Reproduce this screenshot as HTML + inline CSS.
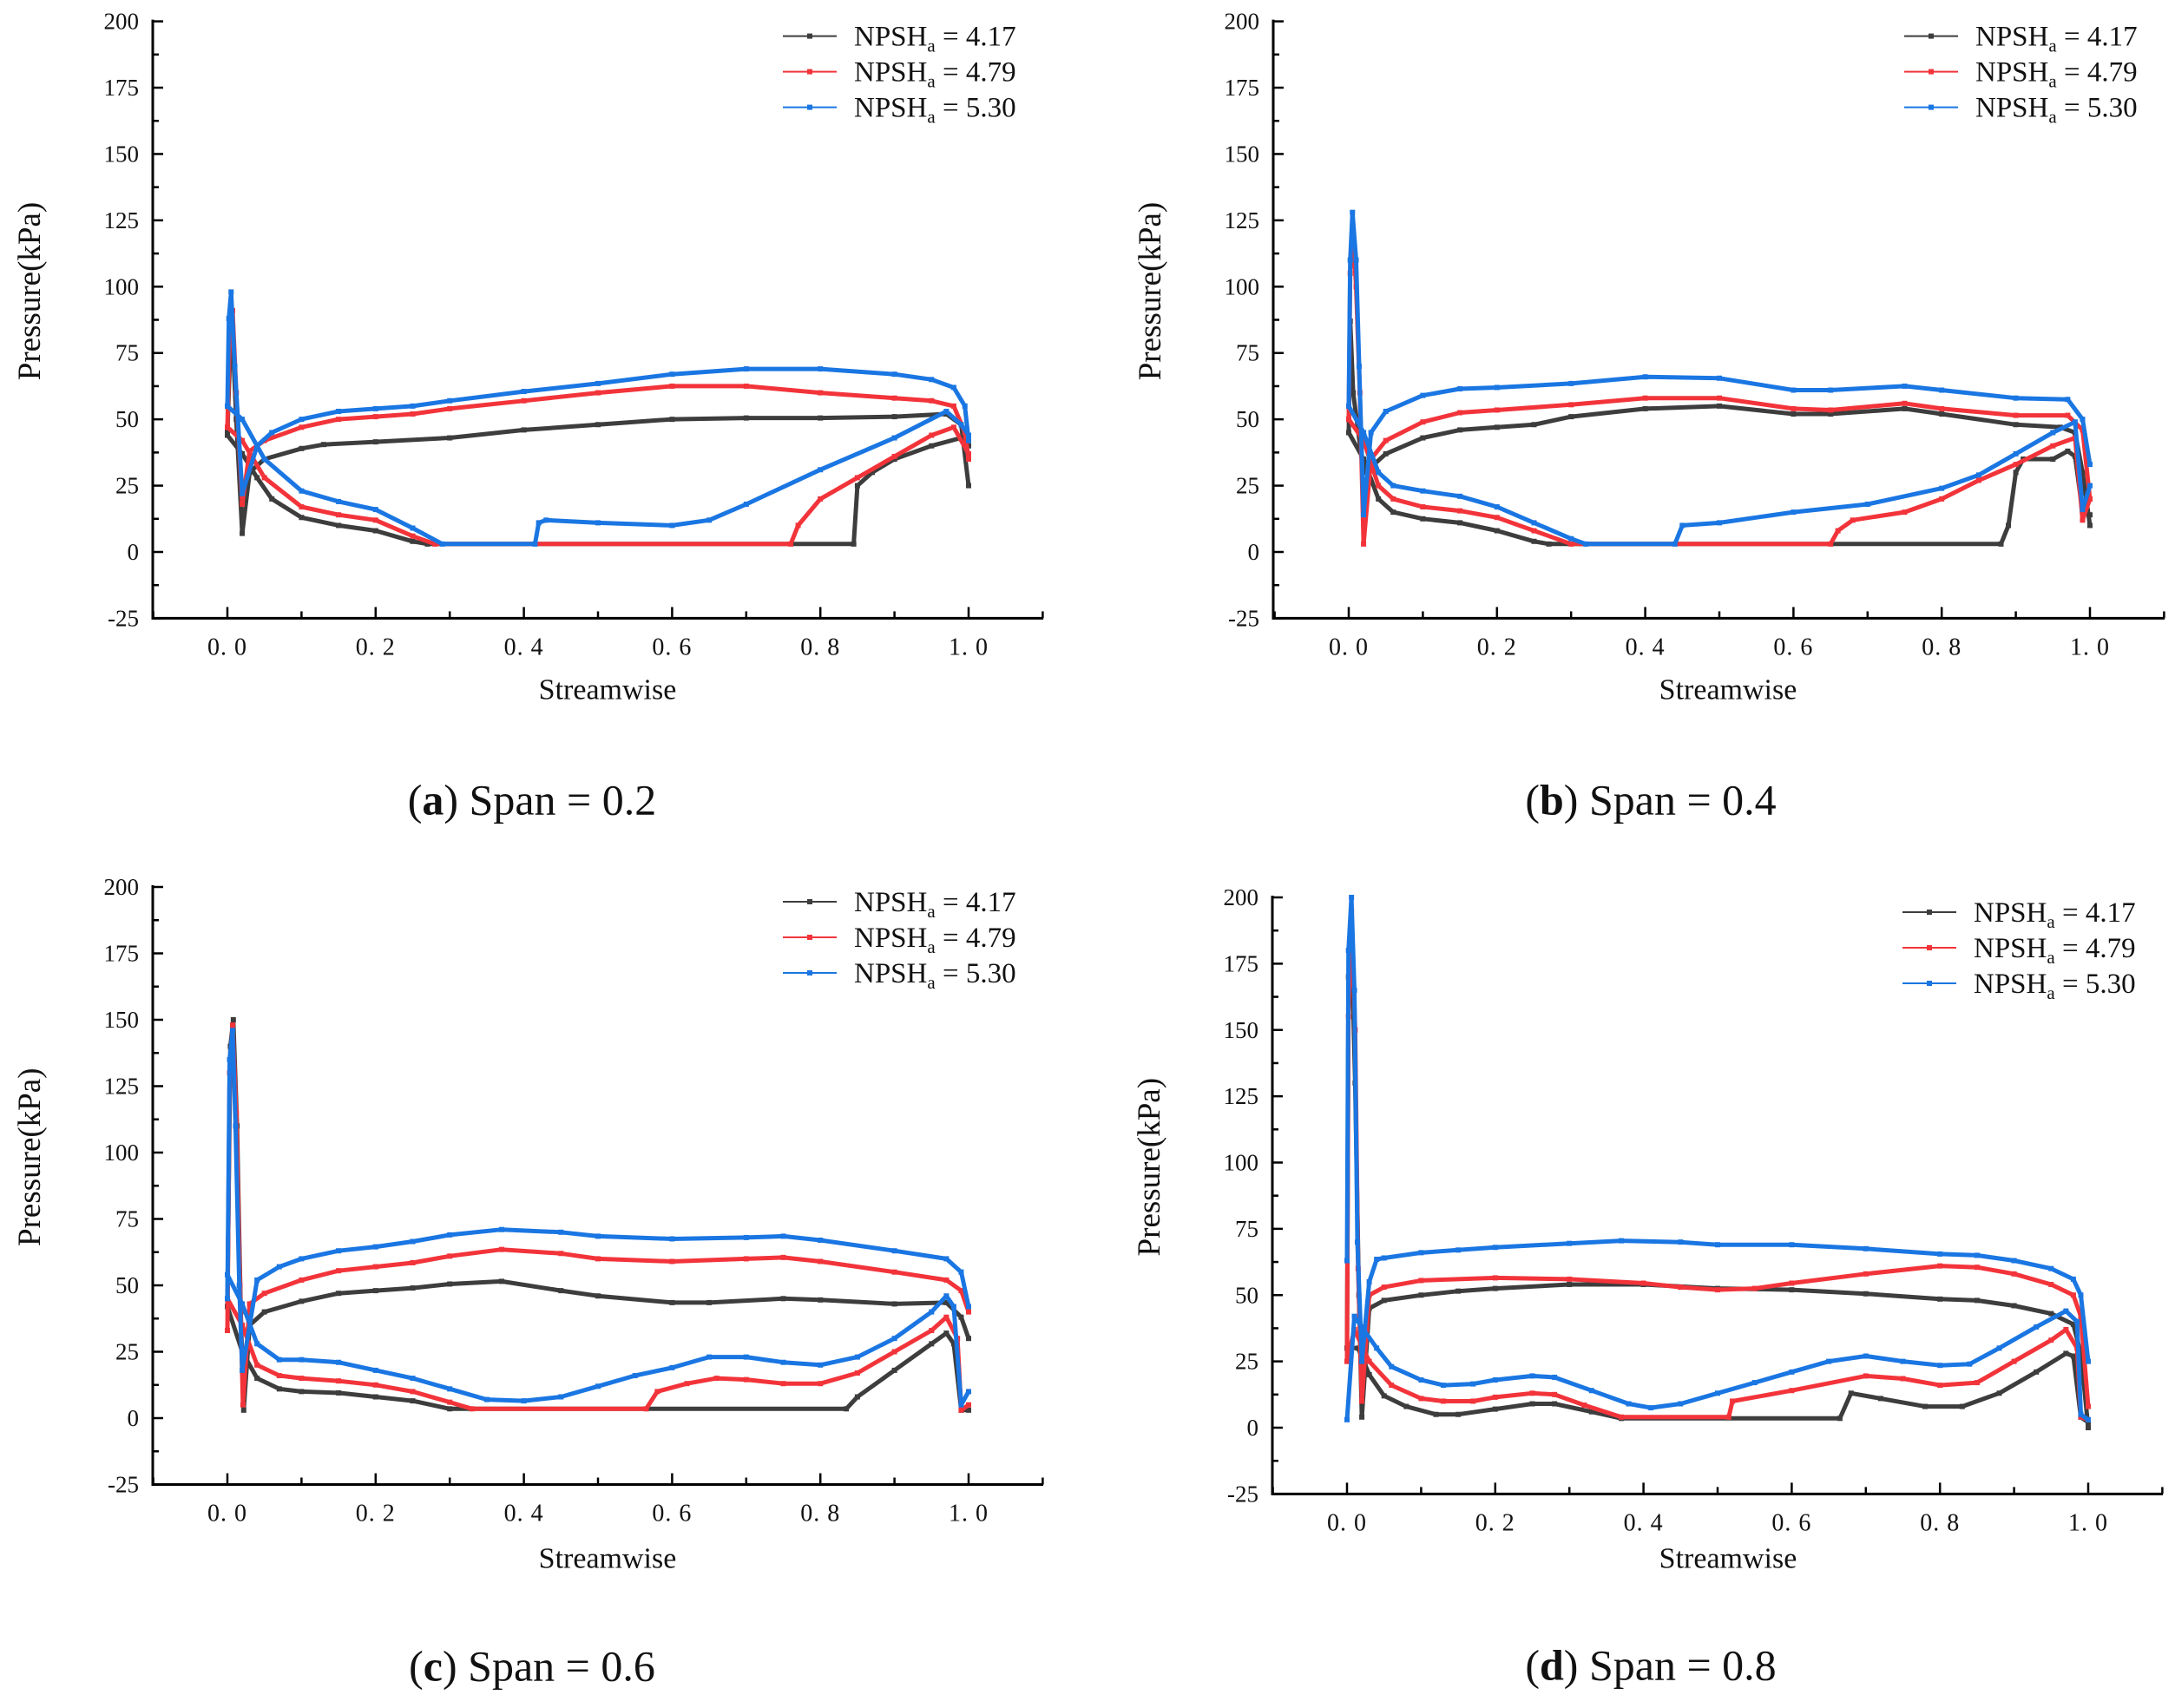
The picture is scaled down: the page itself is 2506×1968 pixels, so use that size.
<!DOCTYPE html>
<html><head><meta charset="utf-8"><title>Pressure distributions</title>
<style>html,body{margin:0;padding:0;background:#fff}svg{display:block}text{font-family:"Liberation Serif",serif;fill:#111}</style>
</head><body>
<svg id="fig" width="2506" height="1968" viewBox="0 0 2506 1968" xmlns="http://www.w3.org/2000/svg"></svg>
<script>
// ---------- data: [streamwise, pressure kPa] ----------
const seriesNames = ["4.17", "4.79", "5.30"];
const seriesColors = ["#3d3d3d", "#f2343a", "#1a76e2"];
const yTicks = [-25, 0, 25, 50, 75, 100, 125, 150, 175, 200];
const xTickLabels = ["0. 0", "0. 2", "0. 4", "0. 6", "0. 8", "1. 0"];
const xTickValues = [0, 0.2, 0.4, 0.6, 0.8, 1.0];
const captionLetters = ["a", "b", "c", "d"];
const captionSpans = ["0.2", "0.4", "0.6", "0.8"];

// Panel (a) span 0.2
const aBlackUp = [[0,45],[0.003,70],[0.006,88],[0.012,50],[0.02,7],[0.03,30],[0.05,35],[0.1,39],[0.13,40.5],[0.2,41.5],[0.3,43],[0.4,46],[0.5,48],[0.6,50],[0.7,50.5],[0.8,50.5],[0.9,51],[0.97,52],[0.99,48],[1.0,25]];
const aBlackLo = [[0,44],[0.02,37],[0.04,28],[0.06,20],[0.1,13],[0.15,10],[0.2,8],[0.25,4],[0.27,3],[0.845,3],[0.85,25],[0.87,30],[0.9,35],[0.95,40],[0.99,43],[1.0,40]];
const aRedUp = [[0,47],[0.003,80],[0.007,91],[0.012,60],[0.02,18],[0.03,38],[0.05,42],[0.1,47],[0.15,50],[0.2,51],[0.25,52],[0.3,54],[0.4,57],[0.5,60],[0.6,62.5],[0.7,62.5],[0.8,60],[0.9,58],[0.95,57],[0.98,55],[0.995,45],[1.0,35]];
const aRedLo = [[0,47],[0.02,42],[0.05,28],[0.1,17],[0.15,14],[0.2,12],[0.25,6],[0.28,3],[0.76,3],[0.77,10],[0.8,20],[0.85,28],[0.9,36],[0.95,44],[0.98,47],[1.0,37]];
const aBlueUp = [[0,55],[0.002,88],[0.005,98],[0.01,70],[0.02,22],[0.04,40],[0.06,45],[0.1,50],[0.15,53],[0.2,54],[0.25,55],[0.3,57],[0.4,60.5],[0.5,63.5],[0.6,67],[0.7,69],[0.8,69],[0.9,67],[0.95,65],[0.98,62],[0.995,55],[1.0,42]];
const aBlueLo = [[0,55],[0.02,50],[0.05,35],[0.1,23],[0.15,19],[0.2,16],[0.25,9],[0.29,3],[0.415,3],[0.42,11],[0.43,12],[0.5,11],[0.6,10],[0.65,12],[0.7,18],[0.8,31],[0.9,43],[0.97,53],[0.99,48],[1.0,44]];

// Panel (b) span 0.4
const bBlackUp = [[0,45],[0.002,87],[0.006,60],[0.02,30],[0.03,32],[0.05,37],[0.1,43],[0.15,46],[0.2,47],[0.25,48],[0.3,51],[0.4,54],[0.5,55],[0.6,52],[0.65,52],[0.75,54],[0.8,52],[0.9,48],[0.96,47],[0.98,45],[0.99,30],[1.0,10]];
const bBlackLo = [[0,45],[0.02,35],[0.04,20],[0.06,15],[0.1,12.5],[0.15,11],[0.2,8],[0.25,4],[0.27,3],[0.88,3],[0.89,10],[0.9,30],[0.91,35],[0.95,35],[0.97,38],[0.98,36],[0.99,15],[1.0,14]];
const bRedUp = [[0,50],[0.002,105],[0.005,122],[0.01,100],[0.015,60],[0.02,3],[0.03,35],[0.05,42],[0.1,49],[0.15,52.5],[0.2,53.5],[0.3,55.5],[0.4,58],[0.5,58],[0.6,54],[0.65,53.5],[0.75,56],[0.8,54],[0.9,51.5],[0.97,51.5],[0.99,46],[1.0,20]];
const bRedLo = [[0,50],[0.02,42],[0.04,25],[0.06,20],[0.1,17],[0.15,15.5],[0.2,13],[0.25,8],[0.3,3],[0.65,3],[0.66,8],[0.68,12],[0.75,15],[0.8,20],[0.85,27],[0.9,33],[0.95,40],[0.98,43],[0.99,12],[1.0,20]];
const bBlueUp = [[0,55],[0.002,110],[0.005,128],[0.01,110],[0.014,70],[0.02,14],[0.03,45],[0.05,53],[0.1,59],[0.15,61.5],[0.2,62],[0.3,63.5],[0.4,66],[0.5,65.5],[0.6,61],[0.65,61],[0.75,62.5],[0.8,61],[0.9,58],[0.97,57.5],[0.99,50],[1.0,33]];
const bBlueLo = [[0,55],[0.02,45],[0.04,30],[0.06,25],[0.1,23],[0.15,21],[0.2,17],[0.25,11],[0.3,5],[0.32,3],[0.44,3],[0.45,10],[0.5,11],[0.6,15],[0.7,18],[0.8,24],[0.85,29],[0.9,37],[0.95,45],[0.98,49],[0.99,16],[1.0,25]];

// Panel (c) span 0.6
const cBlackUp = [[0,42],[0.004,140],[0.008,150],[0.013,110],[0.018,40],[0.022,3],[0.03,35],[0.05,40],[0.1,44],[0.15,47],[0.2,48],[0.25,49],[0.3,50.5],[0.37,51.5],[0.45,48],[0.5,46],[0.6,43.5],[0.65,43.5],[0.75,45],[0.8,44.5],[0.9,43],[0.97,43.5],[0.99,38],[1.0,30]];
const cBlackLo = [[0,42],[0.02,25],[0.04,15],[0.07,11],[0.1,10],[0.15,9.5],[0.2,8],[0.25,6.5],[0.3,3.5],[0.835,3.5],[0.85,8],[0.9,18],[0.95,28],[0.97,32],[0.98,28],[0.99,3],[1.0,3]];
const cRedUp = [[0,33],[0.003,130],[0.007,148],[0.012,115],[0.017,50],[0.021,5],[0.03,43],[0.05,47],[0.1,52],[0.15,55.5],[0.2,57],[0.25,58.5],[0.3,61],[0.37,63.5],[0.45,62],[0.5,60],[0.6,59],[0.7,60],[0.75,60.5],[0.8,59],[0.9,55],[0.97,52],[0.99,48],[1.0,40]];
const cRedLo = [[0,45],[0.02,35],[0.04,20],[0.07,16],[0.1,15],[0.15,14],[0.2,12.5],[0.25,10],[0.3,6],[0.33,3.5],[0.565,3.5],[0.58,10],[0.62,13],[0.66,15],[0.7,14.5],[0.75,13],[0.8,13],[0.85,17],[0.9,25],[0.95,33],[0.97,38],[0.985,30],[0.99,3],[1.0,5]];
const cBlueUp = [[0,45],[0.003,135],[0.007,146],[0.011,110],[0.016,50],[0.02,18],[0.04,52],[0.07,57],[0.1,60],[0.15,63],[0.2,64.5],[0.25,66.5],[0.3,69],[0.37,71],[0.45,70],[0.5,68.5],[0.6,67.5],[0.7,68],[0.75,68.5],[0.8,67],[0.9,63],[0.97,60],[0.99,55],[1.0,42]];
const cBlueLo = [[0,54],[0.02,43],[0.04,28],[0.07,22],[0.1,22],[0.15,21],[0.2,18],[0.25,15],[0.3,11],[0.35,7],[0.4,6.5],[0.45,8],[0.5,12],[0.55,16],[0.6,19],[0.65,23],[0.7,23],[0.75,21],[0.8,20],[0.85,23],[0.9,30],[0.95,40],[0.97,46],[0.98,42],[0.99,5],[1.0,10]];

// Panel (d) span 0.8
const dBlackUp = [[0,30],[0.002,170],[0.006,185],[0.011,130],[0.016,50],[0.02,4],[0.03,45],[0.05,48],[0.1,50],[0.15,51.5],[0.2,52.5],[0.3,54],[0.4,54],[0.5,52.5],[0.6,52],[0.7,50.5],[0.8,48.5],[0.85,48],[0.9,46],[0.95,43],[0.98,39],[0.99,28],[1.0,0]];
const dBlackLo = [[0,30],[0.015,30],[0.03,20],[0.05,12],[0.08,8],[0.12,5],[0.15,5],[0.2,7],[0.25,9],[0.28,9],[0.33,6],[0.37,3.5],[0.665,3.5],[0.68,13],[0.72,11],[0.78,8],[0.83,8],[0.88,13],[0.93,21],[0.97,28],[0.98,27],[0.99,4],[1.0,2]];
const dRedUp = [[0,25],[0.002,155],[0.006,195],[0.011,150],[0.015,60],[0.02,10],[0.03,50],[0.05,53],[0.1,55.5],[0.2,56.5],[0.3,56],[0.4,54.5],[0.45,53],[0.5,52],[0.55,52.5],[0.6,54.5],[0.7,58],[0.8,61],[0.85,60.5],[0.9,58],[0.95,54],[0.98,50],[0.99,42],[1.0,8]];
const dRedLo = [[0,25],[0.01,37],[0.03,25],[0.06,16],[0.1,11],[0.13,10],[0.17,10],[0.2,11.5],[0.25,13],[0.28,12.5],[0.32,8.5],[0.37,4],[0.515,4],[0.52,10],[0.6,14],[0.7,19.5],[0.75,18.5],[0.8,16],[0.85,17],[0.9,25],[0.95,33],[0.97,37],[0.985,30],[0.99,4],[1.0,3]];
const dBlueUp = [[0,63],[0.002,180],[0.006,200],[0.01,165],[0.014,70],[0.02,25],[0.03,55],[0.04,63.5],[0.05,64],[0.1,66],[0.15,67],[0.2,68],[0.3,69.5],[0.37,70.5],[0.45,70],[0.5,69],[0.6,69],[0.7,67.5],[0.8,65.5],[0.85,65],[0.9,63],[0.95,60],[0.98,56],[0.99,50],[1.0,25]];
const dBlueLo = [[0,3],[0.01,42],[0.02,38],[0.04,30],[0.06,23],[0.1,18],[0.13,16],[0.17,16.5],[0.2,18],[0.25,19.5],[0.28,19],[0.33,14],[0.38,9],[0.41,7.5],[0.45,9],[0.5,13],[0.55,17],[0.6,21],[0.65,25],[0.7,27],[0.75,25],[0.8,23.5],[0.84,24],[0.88,30],[0.93,38],[0.97,44],[0.985,40],[0.99,5],[1.0,3]];

const panelData = [
  [[aBlackUp, aBlackLo], [aRedUp, aRedLo], [aBlueUp, aBlueLo]],
  [[bBlackUp, bBlackLo], [bRedUp, bRedLo], [bBlueUp, bBlueLo]],
  [[cBlackUp, cBlackLo], [cRedUp, cRedLo], [cBlueUp, cBlueLo]],
  [[dBlackUp, dBlackLo], [dRedUp, dRedLo], [dBlueUp, dBlueLo]]
];

// ---------- layout ----------
const layouts = [
  {L:176,  R:1202, x0:262,  x1:1116, y200:24.6, y0:636,  capX:613,  swX:700,  swDy:81, capDy:226},
  {L:1467, R:2494, x0:1554, x1:2408, y200:24.6, y0:636,  capX:1902, swX:1991, swDy:81, capDy:226},
  {L:176,  R:1202, x0:262,  x1:1116, y200:1022, y0:1634, capX:613,  swX:700,  swDy:84, capDy:226},
  {L:1466, R:2492, x0:1552, x1:2406, y200:1034, y0:1645, capX:1902, swX:1991, swDy:73, capDy:214}
];
const NS = "http://www.w3.org/2000/svg";
const svg = document.getElementById("fig");
function mk(tag, attrs, parent) {
  const e = document.createElementNS(NS, tag);
  for (const k in attrs) e.setAttribute(k, attrs[k]);
  (parent || svg).appendChild(e);
  return e;
}

layouts.forEach((lay, pi) => {
  const g = mk("g", {});
  
  
  const xs = v => lay.x0 + (lay.x1 - lay.x0) * v;
  const per = (lay.y0 - lay.y200) / 200;
  const ys = v => lay.y0 - per * v;
  const yBot = ys(-25);

  const yAxis = mk("line", {x1:lay.L, y1:lay.y200 - 2, x2:lay.L, y2:yBot, stroke:"#000", "stroke-width":3}, g);
  
  
  const xAxis = mk("line", {x1:lay.L - 1.5, y1:yBot, x2:lay.R, y2:yBot, stroke:"#000", "stroke-width":3}, g);
  
  

  for (let v = -25; v <= 200; v += 12.5) {
    const major = (v % 25 === 0);
    mk("line", {x1:lay.L, y1:ys(v), x2:lay.L + (major ? 12 : 7), y2:ys(v), stroke:"#000", "stroke-width":2.5}, g);
  }
  yTicks.forEach(v => {
    const t = mk("text", {x:lay.L - 16, y:ys(v) + 9, "text-anchor":"end", "font-size":27}, g);
    t.textContent = String(v);
    
    
  });
  for (let i = -1; i <= 11; i++) {
    const v = i / 10;
    const major = (i % 2 === 0);
    mk("line", {x1:xs(v), y1:yBot, x2:xs(v), y2:yBot - (major ? 13 : 8), stroke:"#000", "stroke-width":2.5}, g);
  }
  xTickValues.forEach((v, i) => {
    const t = mk("text", {x:xs(v), y:yBot + 42, "text-anchor":"middle", "font-size":28, "letter-spacing":"1"}, g);
    t.textContent = xTickLabels[i];
    
    
  });
  const xt = mk("text", {x:lay.swX, y:yBot + lay.swDy + 12, "text-anchor":"middle", "font-size":34}, g);
  xt.textContent = "Streamwise";
  
  
  const tyc = (lay.y200 + yBot) / 2 - 33;
  const yt = mk("text", {x:lay.L - 130, y:tyc, "text-anchor":"middle", "font-size":37, transform:`rotate(-90 ${lay.L - 130} ${tyc})`}, g);
  yt.textContent = "Pressure(kPa)";
  
  

  panelData[pi].forEach((pair, si) => {
    const col = seriesColors[si];
    const sg = mk("g", {}, g);
    
    
    pair.forEach(arr => {
      const pts = arr.map(p => xs(p[0]).toFixed(1) + "," + ys(p[1]).toFixed(1)).join(" ");
      const pl = mk("polyline", {points:pts, fill:"none", stroke:col, "stroke-width":5, "stroke-linejoin":"round"}, sg);
      
      
      arr.forEach(p => {
        const m = mk("rect", {x:xs(p[0]) - 3, y:ys(p[1]) - 3, width:6, height:6, fill:col}, sg);
        
        
      });
    });
  });

  const lg = mk("g", {}, g);
  
  
  const lx1 = lay.R - 300, lx2 = lay.R - 238, tx = lay.R - 218;
  seriesNames.forEach((n, si) => {
    const ry = lay.y200 + 17 + si * 41;
    mk("line", {x1:lx1, y1:ry, x2:lx2, y2:ry, stroke:seriesColors[si], "stroke-width":2}, lg);
    mk("rect", {x:(lx1 + lx2) / 2 - 3, y:ry - 3, width:6, height:6, fill:seriesColors[si]}, lg);
    const t = mk("text", {x:tx, y:ry + 11, "font-size":33}, lg);
    
    
    t.appendChild(document.createTextNode("NPSH"));
    const sub = mk("tspan", {"font-size":21, dy:7}, t);
    sub.textContent = "a";
    const rest = mk("tspan", {dy:-7}, t);
    rest.textContent = " = " + n;
  });

  const cap = mk("text", {x:lay.capX, y:yBot + lay.capDy, "text-anchor":"middle", "font-size":50}, g);
  
  
  cap.appendChild(document.createTextNode("("));
  const b = mk("tspan", {"font-weight":"bold"}, cap);
  b.textContent = captionLetters[pi];
  cap.appendChild(document.createTextNode(") Span = " + captionSpans[pi]));
});
</script>
</body></html>
